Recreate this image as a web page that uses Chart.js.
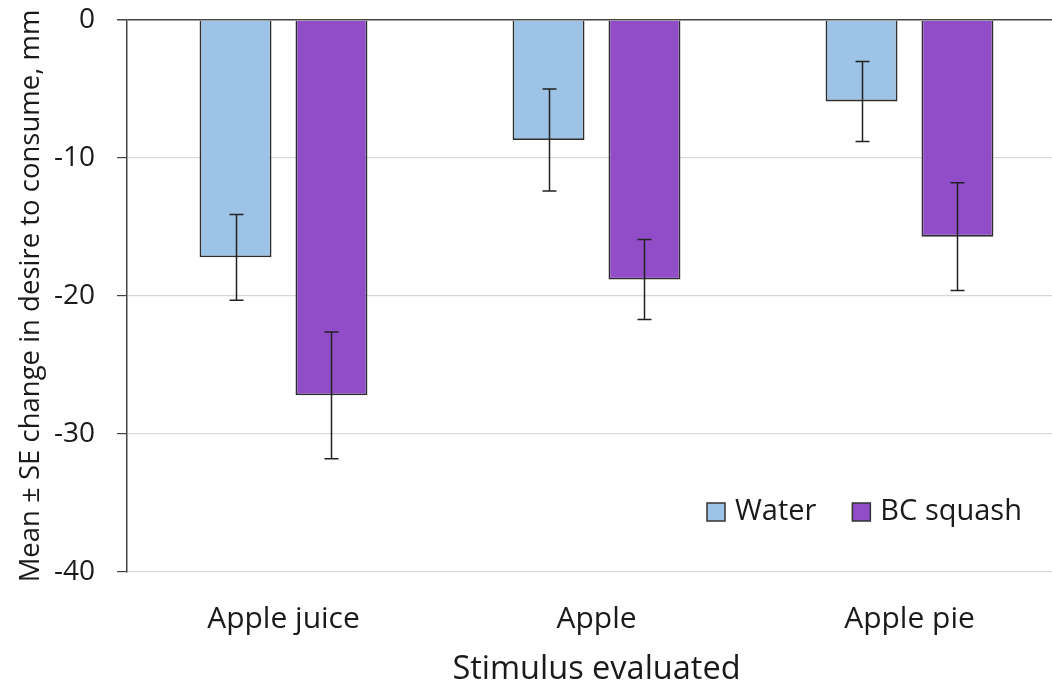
<!DOCTYPE html>
<html>
<head>
<meta charset="utf-8">
<script src="https://cdn.jsdelivr.net/npm/chart.js@4"></script>
<style>
  html, body { margin: 0; padding: 0; background: #fff; overflow: hidden; }
  #wrap { width: 1068px; height: 686px; }
</style>
</head>
<body>
<div id="wrap"><canvas id="barChart"></canvas></div>
<script>
const categories = ['Apple juice', 'Apple', 'Apple pie'];
const waterMean = [-17.2, -8.7, -5.9];
const waterSE = [3.1, 3.7, 2.9];
const squashMean = [-27.2, -18.8, -15.7];
const squashSE = [4.6, 2.9, 3.9];
const yTicks = [0, -10, -20, -30, -40];

const FONT = "'Open Sans', sans-serif";

// error bars, drawn through the y scale
const errorBars = {
  id: 'errorBars',
  afterDatasetsDraw(chart) {
    const ctx = chart.ctx;
    const y = chart.scales.y;
    const seList = [waterSE, squashSE];
    ctx.save();
    ctx.strokeStyle = '#222';
    ctx.lineWidth = 1.5;
    chart.data.datasets.forEach((ds, i) => {
      chart.getDatasetMeta(i).data.forEach((bar, j) => {
        const v = ds.data[j];
        const top = y.getPixelForValue(v + seList[i][j]);
        const bot = y.getPixelForValue(v - seList[i][j]);
        const x = Math.round(bar.x) + 0.5;
        ctx.beginPath();
        ctx.moveTo(x, top); ctx.lineTo(x, bot);
        ctx.moveTo(x - 7, top); ctx.lineTo(x + 7, top);
        ctx.moveTo(x - 7, bot); ctx.lineTo(x + 7, bot);
        ctx.stroke();
      });
    });
    ctx.restore();
  }
};

// legend inside the plot, lower right
const innerLegend = {
  id: 'innerLegend',
  afterDraw(chart) {
    const ctx = chart.ctx;
    const area = chart.chartArea;
    let x = area.left + 580;
    const yc = area.bottom - 60;
    ctx.save();
    ctx.font = '29px ' + FONT;
    ctx.textBaseline = 'middle';
    chart.data.datasets.forEach(ds => {
      ctx.fillStyle = ds.backgroundColor;
      ctx.fillRect(x, yc - 9, 18, 18);
      ctx.strokeStyle = '#333';
      ctx.lineWidth = 1.5;
      ctx.strokeRect(x, yc - 9, 18, 18);
      ctx.fillStyle = '#1a1a1a';
      ctx.fillText(ds.label, x + 28, yc);
      x += 28 + ctx.measureText(ds.label).width + 36;
    });
    ctx.restore();
  }
};

const ctx = document.getElementById('barChart').getContext('2d');
const barChart = new Chart(ctx, {
  type: 'bar',
  data: {
    labels: categories,
    datasets: [{
      label: 'Water',
      data: waterMean,
      backgroundColor: '#9dc3e6',
      borderColor: '#2e2e2e',
      borderWidth: 1.8
    }, {
      label: 'BC squash',
      data: squashMean,
      backgroundColor: '#914cc8',
      borderColor: '#2e2e2e',
      borderWidth: 1.8
    }]
  },
  options: {
    responsive: true,
    maintainAspectRatio: false,
    animation: false,
    layout: { padding: { left: 8, top: 20, right: 2, bottom: 0 } },
    datasets: { bar: { categoryPercentage: 0.613, barPercentage: 0.75 } },
    plugins: {
      legend: { display: false },
      tooltip: { enabled: false }
    },
    scales: {
      x: {
        grid: { display: false, drawTicks: false },
        border: { display: false },
        ticks: { color: '#1a1a1a', padding: 29, maxRotation: 0, font: { family: FONT, size: 30 } },
        title: {
          display: true,
          text: 'Stimulus evaluated',
          color: '#1a1a1a',
          font: { family: FONT, size: 32.5 },
          padding: { top: 10, bottom: -3 }
        },
        afterFit(scale) { scale.height = 114; }
      },
      y: {
        min: -40,
        max: 0,
        afterBuildTicks(scale) { scale.ticks = yTicks.map(v => ({ value: v })); },
        grid: {
          color: c => c.tick && c.tick.value === 0 ? '#444' : '#d9d9d9',
          lineWidth: c => c.tick && c.tick.value === 0 ? 1.5 : 1.2,
          tickColor: '#444',
          tickLength: 10
        },
        border: { display: true, color: '#444', width: 1.5 },
        ticks: { color: '#1a1a1a', padding: 22, font: { family: FONT, size: 28 } },
        title: {
          display: true,
          text: 'Mean ± SE change in desire to consume, mm',
          color: '#1a1a1a',
          font: { family: FONT, size: 27.5 },
          padding: { top: 7, bottom: 0 }
        },
        afterFit(scale) {
          scale.width = 119;
          scale.paddingTop = 0;
          scale.paddingBottom = 0;
        }
      }
    }
  },
  plugins: [errorBars, innerLegend]
});
</script>
</body>
</html>
